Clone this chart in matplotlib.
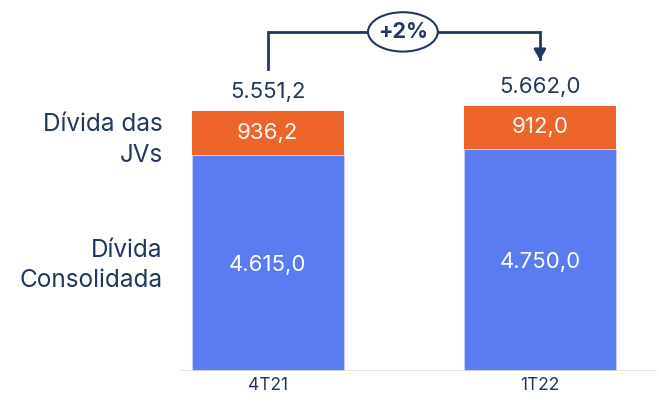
import matplotlib.pyplot as plt
from matplotlib.patches import Ellipse

periodos = ["4T21", "1T22"]
consolidada = [4615.0, 4750.0]
jvs = [936.2, 912.0]
totais = [5551.2, 5662.0]
variacao = "+2%"

azul = "#5B7BF1"
laranja = "#EE652B"
navy = "#22375E"

def fmt(v):
    s = f"{v:,.1f}"
    return s.replace(",", "X").replace(".", ",").replace("X", ".")

plt.rcParams['font.family'] = ['Inter', 'DejaVu Sans']

fig = plt.figure(figsize=(6.59, 4.01), dpi=100)
ax = fig.add_axes([0, 0.0748, 1, 0.9252])
x = [0, 1]
w = 0.558

ax.bar(x, consolidada, w, color=azul, edgecolor="#C9D3F7", linewidth=0.6)
ax.bar(x, jvs, w, bottom=consolidada, color=laranja)

for i in range(2):
    ax.text(x[i], consolidada[i] / 2 - 40, fmt(consolidada[i]), ha="center", va="center",
            color="white", fontsize=16)
    ax.text(x[i], consolidada[i] + jvs[i] / 2, fmt(jvs[i]), ha="center", va="center",
            color="white", fontsize=16)
    ax.text(x[i], totais[i] + 400, fmt(totais[i]), ha="center", va="center",
            color=navy, fontsize=16)
    ax.text(x[i], -300, periodos[i], ha="center", va="center", color=navy, fontsize=12.5)

# labels on the left
ax.text(-0.385, consolidada[0] + jvs[0] / 2 - 150, "Dívida das\nJVs", ha="right", va="center",
        color=navy, fontsize=17.5, linespacing=1.4)
ax.text(-0.385, consolidada[0] / 2 - 50, "Dívida\nConsolidada", ha="right", va="center",
        color=navy, fontsize=17.5, linespacing=1.4)

# bracket with arrow
y0 = totais[0] + 900
ytop = 7240
ax.plot([x[0], x[0], x[1], x[1]], [y0, ytop, ytop, totais[1] + 1000], color=navy, lw=2,
        solid_joinstyle="miter")
ax.annotate("", xy=(x[1], totais[1] + 920), xytext=(x[1], totais[1] + 1250),
            arrowprops=dict(arrowstyle="-|>,head_width=0.35,head_length=0.6", color=navy, lw=2))
ax.add_patch(Ellipse((0.497, ytop), 0.256, 840, facecolor="white", edgecolor=navy, lw=1.5, zorder=3))
ax.text(0.497, ytop, variacao, ha="center", va="center", color=navy, fontsize=15.5,
        fontweight="bold", zorder=4)

ax.axhline(0, xmin=0.275, xmax=0.995, color="#DDDDDD", lw=1.2)
ax.set_xlim(-0.982, 1.437)
ax.set_ylim(0, 7921)
ax.axis("off")

fig.savefig("out.png", dpi=100)
